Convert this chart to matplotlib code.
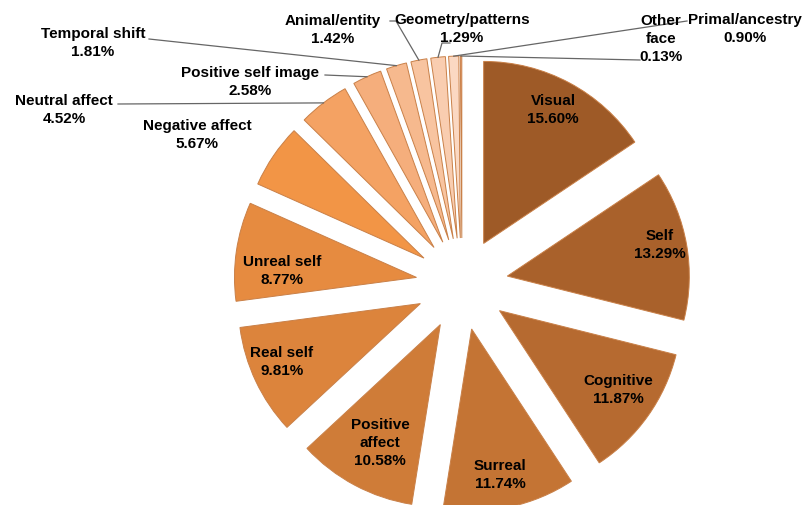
import numpy as np
import matplotlib
matplotlib.use('Agg')
import matplotlib.pyplot as plt

# data, clockwise from 12 o'clock
labels = ['Visual', 'Self', 'Cognitive', 'Surreal', 'Positive\naffect', 'Real self',
          'Unreal self', 'Negative affect', 'Neutral affect', 'Positive self image',
          'Temporal shift', 'Animal/entity', 'Geometry/patterns', 'Primal/ancestry',
          'Other\nface']
values = [15.60, 13.29, 11.87, 11.74, 10.58, 9.81, 8.77, 5.67, 4.52, 2.58,
          1.81, 1.42, 1.29, 0.90, 0.13]
colors = ['#9E5A27', '#A9612B', '#B66A30', '#C47434', '#CF7C38', '#DC843C',
          '#E68B40', '#F29546', '#F4A263', '#F5AE7C', '#F6B98E', '#F8C4A0',
          '#F9CDB0', '#FBD8C2', '#EDA27A']

# label text centres in pixel coords (y down)
label_pos = [(553, 110), (660, 245), (618, 390), (500, 475), (380, 443), (282, 362),
             (282, 271), (197, 135), (64, 110), (250, 82), (93, 43), (333, 30),
             (462, 29), (745, 29), (661, 39)]
# where the leader line meets the label (pixel coords, y down)
leader_end = {8: (118, 104), 9: (325, 75), 10: (149, 39), 11: (390, 21),
              12: (450, 43), 13: (687, 21), 14: (640, 60)}
leader_hook = {11: (396, 21), 12: (442, 43)}

W, H = 806, 505
fig = plt.figure(figsize=(W / 100, H / 100), dpi=100)
ax = fig.add_axes([0, 0, 1, 1])

cx, cy = 462, H - 284
R = 182
gap = 46  # explode offset in pixels
wedges, _ = ax.pie(values, colors=colors, startangle=90, counterclock=False,
                   radius=R, center=(cx, cy), explode=[gap] * len(values),
                   wedgeprops=dict(edgecolor='#C98048', linewidth=0.7),
                   frame=True)
ax.set_xlim(0, W)
ax.set_ylim(0, H)
ax.set_aspect('equal')
ax.axis('off')

font = dict(fontsize=11, fontweight='bold', family='Liberation Sans', color='black')
for i, w in enumerate(wedges):
    txt = labels[i] + '\n' + '%.2f%%' % values[i]
    x, y = label_pos[i]
    ax.text(x, H - y, txt, ha='center', va='center', linespacing=1.35, **font)
    if i in leader_end:
        th = np.deg2rad((w.theta1 + w.theta2) / 2)
        vx, vy = w.center
        px, py = vx + R * np.cos(th), vy + R * np.sin(th)
        ex, ey = leader_end[i]
        xs, ys = [px], [py]
        if i in leader_hook:
            xs.append(leader_hook[i][0]); ys.append(H - leader_hook[i][1])
        xs.append(ex); ys.append(H - ey)
        ax.plot(xs, ys, color='#666666', linewidth=0.9)

fig.savefig('out.png', dpi=100)
